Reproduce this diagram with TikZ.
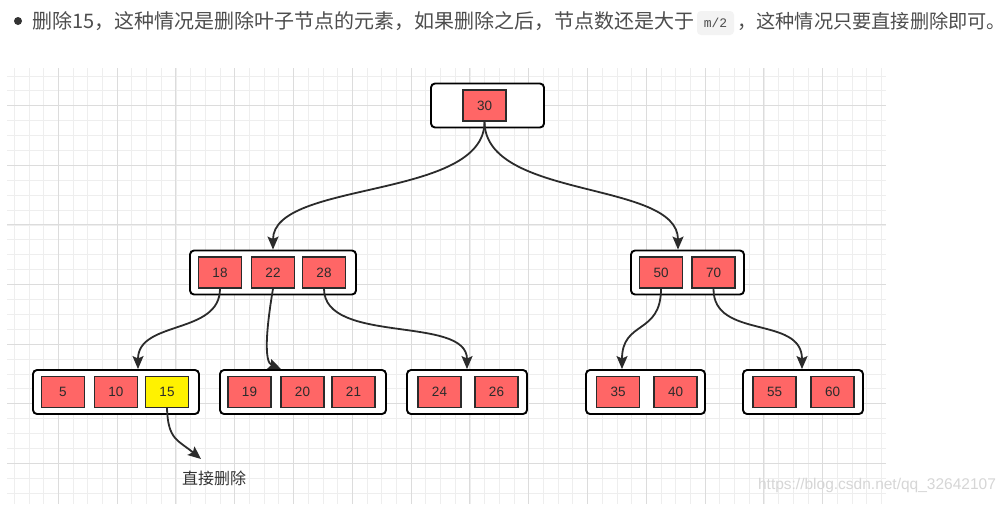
\documentclass[tikz,border=0pt]{standalone}
\usepackage{fontspec}
\setmainfont{Liberation Sans}
\setmonofont{Liberation Mono}
\newfontfamily\cjk{Noto Sans CJK SC}
\usetikzlibrary{arrows.meta}
\definecolor{keyred}{HTML}{FF6666}
\definecolor{keyborder}{HTML}{2B2B2B}
\definecolor{txt}{HTML}{4D4D4D}
\definecolor{gridminor}{HTML}{EEEEEE}
\definecolor{gridmajor}{HTML}{DCDCDC}
\definecolor{codebg}{HTML}{F3F3F3}
\tikzset{
  outerbox/.style={draw=black, line width=1.9pt, rounded corners=4pt, fill=white, minimum height=44pt, inner sep=0pt},
  keybox/.style={draw=keyborder, line width=1.4pt, fill=keyred, minimum width=43pt, minimum height=31pt, inner sep=0pt, text=keyborder, font=\fontsize{13.5}{15}\selectfont},
  hlkey/.style={keybox, fill=yellow},
  conn/.style={draw=keyborder, line width=1.8pt, -{Stealth[length=13pt,width=11pt,inset=2.5pt]}},
  gminor/.style={draw=gridminor, line width=0.8pt},
  gmajor/.style={draw=gridmajor, line width=0.9pt},
}
\begin{document}
\begin{tikzpicture}[x=1pt,y=-1pt]
\useasboundingbox (0,0) rectangle (1008,504);
\fill[white] (0,0) rectangle (1008,504);
% grid
\foreach \i in {-3,...,56} {\draw[gminor] ({58.3+14.7*\i},68) -- ({58.3+14.7*\i},504);}
\foreach \k in {-2,...,26} {\draw[gminor] (7,{105.7+14.9*\k}) -- (886,{105.7+14.9*\k});}
\foreach \i in {0,4,...,52} {\draw[gmajor] ({58.3+14.7*\i},68) -- ({58.3+14.7*\i},504);}
\foreach \k in {0,4,...,24} {\draw[gmajor] (7,{105.7+14.9*\k}) -- (886,{105.7+14.9*\k});}

% header text
\fill[black!80] (18,21) circle (4);
\node[anchor=west, text=txt, inner sep=0pt, font=\cjk\fontsize{20}{24}\selectfont] (h1) at (32,21) {删除15，这种情况是删除叶子节点的元素，如果删除之后，节点数还是大于};
\node[fill=codebg, rounded corners=4pt, text=txt, minimum width=37pt, minimum height=24pt, inner sep=0pt, font=\ttfamily\fontsize{13}{15}\selectfont] (code) at (715.5,23) {m/2};
\node[anchor=west, text=txt, inner sep=0pt, font=\cjk\fontsize{19.2}{23}\selectfont] (h2) at (737,21) {，这种情况只要直接删除即可。};

% root
\node[outerbox, minimum width=113pt] (root) at (487.5,105.5) {};
\node[keybox] (k30) at (484.5,105.5) {30};
% level 2
\node[outerbox, minimum width=166pt] (b2l) at (273,272.5) {};
\node[keybox] (k18) at (220,272.5) {18};
\node[keybox] (k22) at (273,272.5) {22};
\node[keybox] (k28) at (324,272.5) {28};
\node[outerbox, minimum width=113pt] (b2r) at (687.5,272.5) {};
\node[keybox] (k50) at (661,272.5) {50};
\node[keybox] (k70) at (713.5,272.5) {70};
% leaves
\node[outerbox, minimum width=166pt] (l1) at (116,392) {};
\node[keybox] (k5) at (63,392) {5};
\node[keybox] (k10) at (116,392) {10};
\node[hlkey] (k15) at (167,392) {15};
\node[outerbox, minimum width=166pt] (l2) at (303,392) {};
\node[keybox] (k19) at (249.5,392) {19};
\node[keybox] (k20) at (302.5,392) {20};
\node[keybox] (k21) at (353.5,392) {21};
\node[outerbox, minimum width=120pt] (l3) at (467,392) {};
\node[keybox] (k24) at (439.5,392) {24};
\node[keybox] (k26) at (496.5,392) {26};
\node[outerbox, minimum width=119pt] (l4) at (645.5,392) {};
\node[keybox] (k35) at (618,392) {35};
\node[keybox] (k40) at (675.5,392) {40};
\node[outerbox, minimum width=120pt] (l5) at (803,392) {};
\node[keybox] (k55) at (774.5,392) {55};
\node[keybox] (k60) at (832.5,392) {60};

% connectors
\draw[conn] (k30.south) .. controls (485,200) and (273,180) .. (k22 |- b2l.north);
\draw[conn] (k30.south) .. controls (485,200) and (678,180) .. ([xshift=-9.5pt]b2r.north);
\draw[conn] (k18.south) .. controls (220,335) and (138,320) .. ([xshift=22pt]l1.north);
\draw[conn] (k22.south) .. controls (266,330) and (264,362) .. ([xshift=-22pt]l2.north);
\draw[conn] (k28.south) .. controls (324,345) and (467,315) .. (l3.north);
\draw[conn] (k50.south) .. controls (661,335) and (622,320) .. ([xshift=-23.5pt]l4.north);
\draw[conn] (k70.south) .. controls (713,340) and (802,315) .. ([xshift=-1pt]l5.north);
\coordinate (t15) at (201,459);
\draw[conn] (k15.south) .. controls (168,440) and (178,440) .. (t15);
\node[font=\cjk\fontsize{16}{18}\selectfont, text=black!80] (lab) at (214,478) {直接删除};

% watermark
\node[text=black!16, font=\fontsize{15.5}{17}\selectfont, inner sep=0pt] (wm) at (877,485) {https://blog.csdn.net/qq\_32642107};
\end{tikzpicture}
\end{document}
